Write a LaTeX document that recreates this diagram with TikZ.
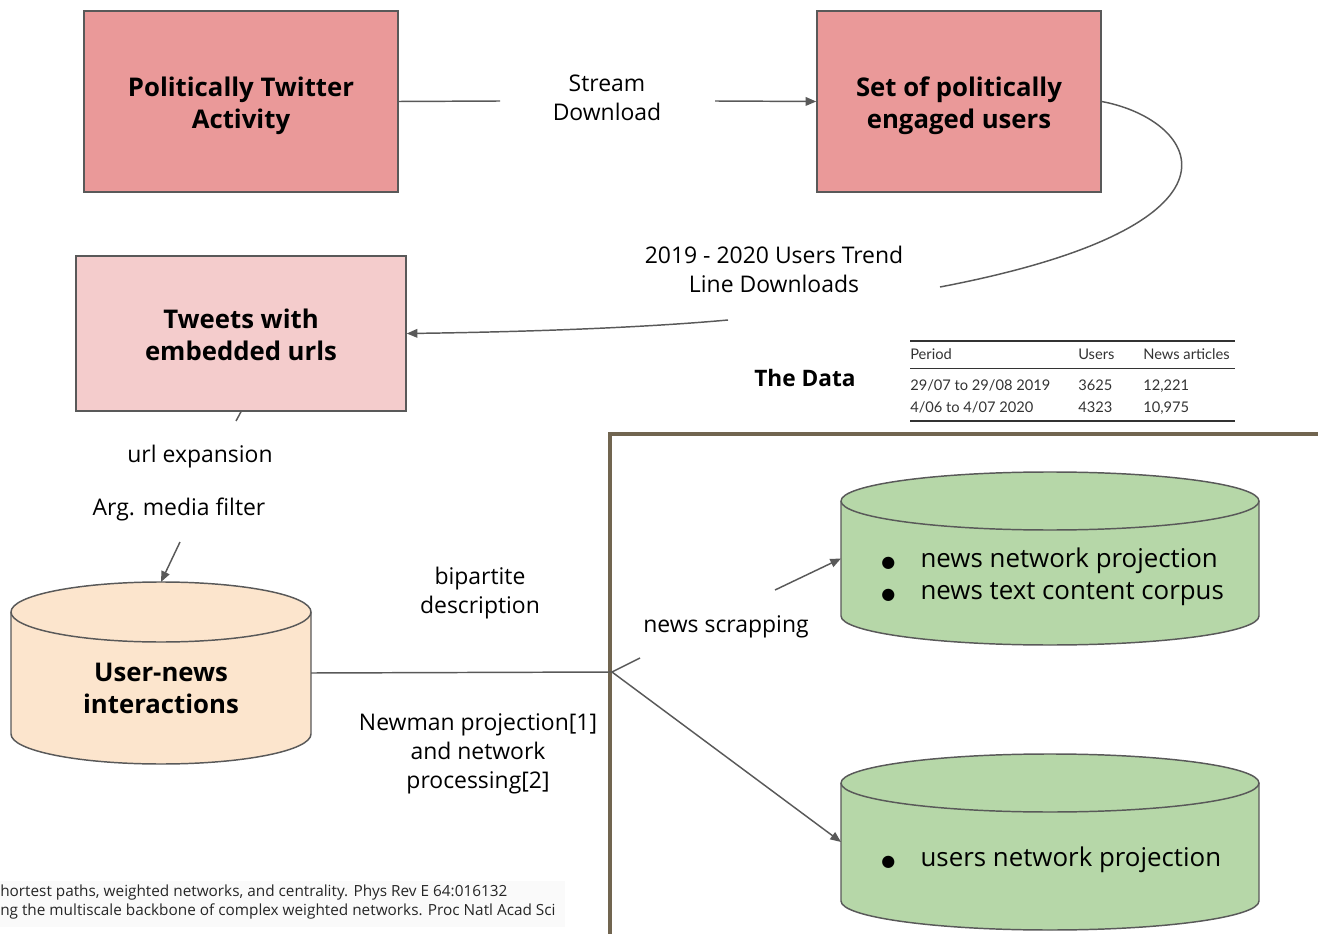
\documentclass[tikz,border=0pt]{standalone}
\usepackage{fontspec}
\usepackage{booktabs}
\setmainfont{Open Sans}
\newfontfamily\tablefont{Lato}
\newfontfamily\dotfont{DejaVu Sans}
\usetikzlibrary{shapes.geometric,arrows.meta,positioning,calc,backgrounds}
\definecolor{boxred}{RGB}{234,153,153}
\definecolor{boxpink}{RGB}{244,204,204}
\definecolor{cylpeach}{RGB}{252,229,205}
\definecolor{cylgreen}{RGB}{182,215,168}
\definecolor{edgegray}{RGB}{89,89,89}
\definecolor{framebrown}{RGB}{113,101,80}

% cylinder outline behind a named node: name, x radius, y radius, fill
\newcommand{\drawstore}[4]{%
  \begin{scope}[on background layer]
    \filldraw[fill=#4, draw=edgegray, line width=1.1pt]
      ([yshift=-#3]#1.north west) -- ([yshift=#3]#1.south west)
      arc[start angle=180, end angle=360, x radius=#2, y radius=#3]
      -- ([yshift=-#3]#1.north east)
      arc[start angle=0, end angle=180, x radius=#2, y radius=#3] -- cycle;
    \draw[edgegray, line width=1.1pt] ([yshift=-#3]#1.north west)
      arc[start angle=180, end angle=360, x radius=#2, y radius=#3];
  \end{scope}}
\newcommand{\storedot}{\makebox[29.5pt][l]{\dotfont\fontsize{12}{12}\selectfont ●}}

\begin{document}
\begin{tikzpicture}[x=0.75pt, y=-0.75pt,
    stage/.style={draw=edgegray, line width=1.1pt, align=center, inner sep=0pt,
      text height=45pt, text depth=5pt, font=\fontsize{19.3}{24}\selectfont\bfseries},
    store/.style={inner sep=0pt, outer sep=0pt, minimum width=313.5pt},
    storetext/.style={align=left, inner sep=0pt, anchor=west, font=\fontsize{19.4}{24}\selectfont},
    lbl/.style={align=center, font=\fontsize{17.2}{21.75}\selectfont},
    link/.style={edgegray, line width=1.1pt},
    flow/.style={link, -{Triangle[length=8pt,width=6.5pt]}}]

  \useasboundingbox (0,0) rectangle (1318,934);

  \node[stage, fill=boxred, minimum width=235.5pt, minimum height=135.75pt] (activity) at (241,101.5) {Politically Twitter\\Activity};
  \node[stage, fill=boxred, minimum width=213pt, minimum height=135.75pt] (engaged) at (959,101.5) {Set of politically\\engaged users};
  \node[stage, fill=boxpink, minimum width=247.5pt, minimum height=116.25pt] (tweets) at (241,333.5) {Tweets with\\embedded urls};

  \node[store, minimum width=225pt, minimum height=136.5pt] (usernews) at (161,673) {};
  \node[align=center, inner sep=0pt, font=\fontsize{19.3}{24}\selectfont\bfseries] (usernewstext) at (161,688) {User-news\\interactions};
  \node[store, minimum height=129.75pt] (newsstore) at (1050,558.5) {};
  \node[storetext] (newsstoretext) at (881,577)
    {\storedot news network projection\\\storedot news text content corpus};
  \node[store, minimum height=132pt] (usersstore) at (1050,842) {};
  \node[storetext] (usersstoretext) at (881,860) {\storedot users network projection};
  \drawstore{usernews}{112.5pt}{22.5pt}{cylpeach}
  \drawstore{newsstore}{156.75pt}{21.75pt}{cylgreen}
  \drawstore{usersstore}{156.75pt}{21.75pt}{cylgreen}

  \draw[framebrown, line width=3pt] (1330,434) -- (610,434) -- (610,945);

  \node[lbl] (stream) at (607,98) {Stream\\Download};
  \node[lbl] (trend) at (774,269) {2019 - 2020 Users Trend\\Line Downloads};
  \node[lbl] (urlexp) at (200,457) {url expansion};
  \node[lbl] (mediafilter) at (179,509) {Arg. media filter};
  \node[lbl] (bipartite) at (480,593) {bipartite\\description};
  \node[lbl] (scrapping) at (726,627) {news scrapping};
  \node[lbl] (newman) at (478,754) {Newman projection[1]\\and network\\processing[2]};
  \node[font=\fontsize{17}{20}\selectfont\bfseries] (thedata) at (805,378) {The Data};

  \node[inner sep=0pt, anchor=north west, font=\tablefont\fontsize{11}{16.5}\selectfont, text=black!80] (datatable) at (910,340)
  {\setlength{\tabcolsep}{0pt}\setlength{\heavyrulewidth}{1.2pt}\setlength{\lightrulewidth}{0.6pt}%
   \setlength{\aboverulesep}{0.2ex}\setlength{\belowrulesep}{0.3ex}%
   \begin{tabular}{@{}p{126pt}p{48.75pt}p{69pt}@{}}
   \toprule
   Period & Users & News articles\\
   \midrule
   \rule{0pt}{14.6pt}29/07 to 29/08 2019 & 3625 & 12,221\\
   4/06 to 4/07 2020 & 4323 & 10,975\\
   \bottomrule
   \end{tabular}};

  \node[anchor=base west, inner sep=0pt, font=\fontsize{11.5}{14}\selectfont, text=black!85] (refone) at (0,896)
    {hortest paths, weighted networks, and centrality. Phys Rev E 64:016132};
  \node[anchor=base west, inner sep=0pt, font=\fontsize{11.5}{14}\selectfont, text=black!85] (reftwo) at (0,915)
    {ng the multiscale backbone of complex weighted networks. Proc Natl Acad Sci};
  \begin{scope}[on background layer]
    \fill[black!2] (0,881) rectangle (565,927);
  \end{scope}

  \coordinate (streamgap1) at (500,101);
  \coordinate (streamgap2) at (715,101);
  \coordinate (trendgap1) at (940,287);
  \coordinate (trendgap2) at (728,320);
  \coordinate (urlgap1) at (236,421);
  \coordinate (urlgap2) at (180,542);
  \coordinate (split) at (612,672);
  \coordinate (scrapgap1) at (640,658);
  \coordinate (scrapgap2) at (775,590);

  \draw[link] (activity.east) -- (streamgap1);
  \draw[flow] (streamgap2) -- (engaged.west);
  \draw[link] (engaged.east) .. controls (1200,120) and (1265,225) .. (trendgap1);
  \draw[flow] (trendgap2) .. controls (640,328) and (520,332) .. (tweets.east);
  \draw[link] (tweets.south) -- (urlgap1);
  \draw[flow] (urlgap2) -- (usernews.north);
  \draw[link] (usernews.east) -- (split);
  \draw[link] (split) -- (scrapgap1);
  \draw[flow] (scrapgap2) -- (newsstore.west);
  \draw[flow] (split) -- (usersstore.west);
\end{tikzpicture}
\end{document}
